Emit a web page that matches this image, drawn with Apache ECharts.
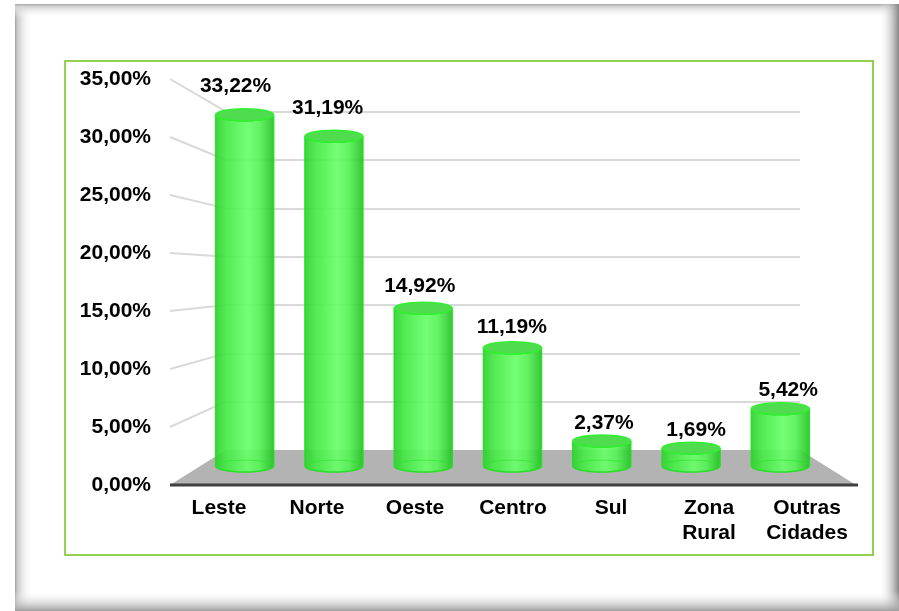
<!DOCTYPE html>
<html><head><meta charset="utf-8">
<script src="https://cdn.jsdelivr.net/npm/echarts@6/dist/echarts.min.js"></script>
<style>html,body{margin:0;padding:0;background:#fff}#c{width:899px;height:611px}</style>
</head><body><div id="c"></div>
<script>
// ---- data ----
const categories = ['Leste', 'Norte', 'Oeste', 'Centro', 'Sul', 'Zona\nRural', 'Outras\nCidades'];
const values = [33.22, 31.19, 14.92, 11.19, 2.37, 1.69, 5.42];
const yTicks = [0, 5, 10, 15, 20, 25, 30, 35];
const yMin = 0, yMax = 35, yStep = 5;

const fmt = v => v.toFixed(2).replace('.', ',') + '%';
const FONT = '"Liberation Sans", Arial, Helvetica, sans-serif';
const chart = echarts.init(document.getElementById('c'), null, {renderer: 'canvas'});

const grad = (x2, y2, stops) => ({type: 'linear', x: 0, y: 0, x2: x2, y2: y2,
  colorStops: stops.map(s => ({offset: s[0], color: s[1]}))});

const hiddenVal = (gi) => ({type: 'value', gridIndex: gi, min: yMin, max: yMax, interval: yStep, show: false});

const option = {
  backgroundColor: '#ffffff',
  animation: false,
  graphic: [
    {type: 'rect', z: 100, silent: true, shape: {x: 15, y: 4, width: 17, height: 607},
      style: {fill: grad(1, 0, [[0, '#9c9c9c'], [0.1, '#c4c4c4'], [1, 'rgba(255,255,255,0)']])}},
    {type: 'rect', z: 100, silent: true, shape: {x: 15, y: 4, width: 884, height: 14},
      style: {fill: grad(0, 1, [[0, '#a4a4a4'], [0.15, '#cfcfcf'], [1, 'rgba(255,255,255,0)']])}},
    {type: 'rect', z: 100, silent: true, shape: {x: 879, y: 4, width: 20, height: 607},
      style: {fill: grad(1, 0, [[0, 'rgba(255,255,255,0)'], [1, '#858585']])}},
    {type: 'rect', z: 100, silent: true, shape: {x: 15, y: 591, width: 884, height: 20},
      style: {fill: grad(0, 1, [[0, 'rgba(255,255,255,0)'], [1, '#a0a0a0']])}},
    {type: 'rect', z: 100, silent: true, shape: {x: 65, y: 61, width: 808, height: 494},
      style: {fill: 'none', stroke: '#92d050', lineWidth: 2}}
  ],
  grid: [
    {left: 170, width: 686, top: 79, height: 406},      // front plane: axis labels
    {left: 200, width: 625, top: 96, height: 370},      // mid plane: cylinders
    {left: 226, width: 574, top: 111.7, height: 338.3}, // back wall: gridlines
    {left: 189.5, width: 644.7, top: 67, height: 382}   // data labels
  ],
  xAxis: [
    {type: 'category', gridIndex: 0, data: categories,
      axisLine: {show: false}, axisTick: {show: false}, splitLine: {show: false},
      axisLabel: {interval: 0, color: '#000', fontFamily: FONT, fontWeight: 'bold', fontSize: 21, lineHeight: 25, margin: 11}},
    {type: 'category', gridIndex: 1, data: categories, show: false},
    {type: 'value', gridIndex: 2, min: 0, max: 1, show: false},
    {type: 'category', gridIndex: 3, data: categories, show: false}
  ],
  yAxis: [
    {type: 'value', gridIndex: 0, min: yMin, max: yMax, interval: yStep,
      axisLine: {show: false}, axisTick: {show: false}, splitLine: {show: false},
      axisLabel: {formatter: fmt, color: '#000', fontFamily: FONT, fontWeight: 'bold', fontSize: 21, margin: 19}},
    hiddenVal(1),
    {type: 'value', gridIndex: 2, min: yMin, max: yMax, interval: yStep,
      axisLine: {show: false}, axisTick: {show: false}, axisLabel: {show: false},
      splitLine: {show: true, showMinLine: false, lineStyle: {color: '#d9d9d9', width: 2}}},
    hiddenVal(3)
  ],
  series: [
    { // floor + diagonal gridline connectors
      type: 'custom', xAxisIndex: 0, yAxisIndex: 0, z: 1, silent: true,
      data: yTicks.map(v => [0, v]),
      renderItem: function (params, api) {
        const v = api.value(1);
        const band = api.size([1, 0])[0];
        const fl = api.coord([0, v]);
        const xL = fl[0] - band / 2;
        const back = chart.convertToPixel({gridIndex: 2}, [0, v]);
        if (v === 0) {
          const fr = api.coord([categories.length - 1, 0]);
          const xR = fr[0] + band / 2;
          const backR = chart.convertToPixel({gridIndex: 2}, [1, 0]);
          return {type: 'group', children: [
            {type: 'polygon', shape: {points: [[xL, fl[1]], [xR, fl[1]], backR, back]},
              style: {fill: '#b3b3b3'}},
            {type: 'line', shape: {x1: xL, y1: fl[1], x2: xR + 2, y2: fl[1]},
              style: {stroke: '#404040', lineWidth: 3}}
          ]};
        }
        return {type: 'line', shape: {x1: xL, y1: fl[1], x2: back[0], y2: back[1]},
          style: {stroke: '#d9d9d9', lineWidth: 2}};
      }
    },
    { // cylinders
      type: 'custom', xAxisIndex: 1, yAxisIndex: 1, z: 3, silent: true,
      data: values.map((v, i) => [i, v]),
      renderItem: function (params, api) {
        const i = api.value(0), v = api.value(1);
        const top = api.coord([i, v]);
        const bot = api.coord([i, 0]);
        const bw = api.size([1, 0])[0] * 0.65;
        const rx = bw / 2, ry = 6;
        const xl = top[0] - rx, xr = top[0] + rx, yt = top[1], yb = bot[1];
        const body = `M${xl},${yt} L${xl},${yb} A${rx},${ry} 0 0 0 ${xr},${yb} L${xr},${yt} A${rx},${ry} 0 0 1 ${xl},${yt} Z`;
        const topE = `M${xl},${yt} A${rx},${ry} 0 1 0 ${xr},${yt} A${rx},${ry} 0 1 0 ${xl},${yt} Z`;
        const backArc = `M${xl},${yb} A${rx},${ry} 0 0 1 ${xr},${yb}`;
        return {type: 'group', children: [
          {type: 'path', shape: {pathData: body},
            style: {fill: grad(1, 0, [[0, '#2fcf2f'], [0.2, '#45ea45'], [0.55, '#68ff68'], [0.75, '#55f255'], [1, '#24bf24']]),
              stroke: '#22e022', lineWidth: 1.5, opacity: 0.92}},
          {type: 'path', shape: {pathData: backArc},
            style: {fill: 'none', stroke: 'rgba(40,230,40,0.6)', lineWidth: 1.2}},
          {type: 'path', shape: {pathData: topE},
            style: {fill: '#4fdc4f', stroke: '#30f030', lineWidth: 1.5}}
        ]};
      }
    },
    { // value labels
      type: 'custom', xAxisIndex: 3, yAxisIndex: 3, z: 4, silent: true,
      data: values.map((v, i) => [i, v]),
      renderItem: function (params, api) {
        const p = api.coord([api.value(0), api.value(1)]);
        return {type: 'text', x: p[0], y: p[1],
          style: {text: fmt(api.value(1)), fill: '#000', fontFamily: FONT, fontWeight: 'bold', fontSize: 21,
            align: 'center', verticalAlign: 'middle'}};
      }
    }
  ]
};
chart.setOption(option);
</script>
</body></html>
